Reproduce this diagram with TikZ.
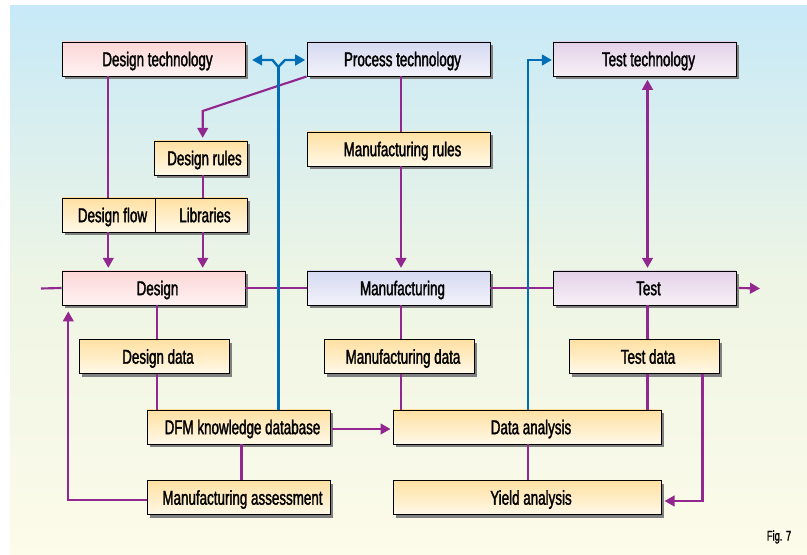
\documentclass[tikz,border=0pt]{standalone}
\usepackage{fontspec}
\setmainfont[FakeStretch=0.67,FakeBold=1.6]{Liberation Sans}
\usetikzlibrary{arrows.meta,shadows,calc}
\definecolor{bgT}{RGB}{199,233,248}
\definecolor{bgM}{RGB}{238,245,228}
\definecolor{bgB}{RGB}{253,251,234}
\definecolor{pinkT}{RGB}{252,214,214}
\definecolor{pinkB}{RGB}{255,243,243}
\definecolor{bluT}{RGB}{212,217,240}
\definecolor{bluB}{RGB}{243,243,251}
\definecolor{vioT}{RGB}{227,209,232}
\definecolor{vioB}{RGB}{247,240,247}
\definecolor{yelT}{RGB}{255,224,162}
\definecolor{yelB}{RGB}{255,249,232}
\definecolor{purp}{RGB}{146,39,143}
\definecolor{bluL}{RGB}{0,110,183}
\definecolor{shad}{RGB}{128,128,128}
\tikzset{
  box/.style={draw=black, line width=0.7pt, inner sep=0pt,
    text height=10.8pt, text depth=0pt, minimum height=25.5pt,
    font=\fontsize{15pt}{17pt}\selectfont,
    execute at begin node={\hspace*{6pt}},
    drop shadow={shadow xshift=2.4pt, shadow yshift=-2.4pt, fill=shad, opacity=1}},
  wd/.style={minimum width=#1*0.75pt},
  pinkbox/.style={box, top color=pinkT, bottom color=pinkB},
  bluebox/.style={box, top color=bluT, bottom color=bluB},
  viobox/.style={box, top color=vioT, bottom color=vioB},
  yelbox/.style={box, top color=yelT, bottom color=yelB},
  pl/.style={draw=purp, line width=1.6pt},
  bl/.style={draw=bluL, line width=1.8pt},
  arr/.style={-{Triangle[length=7.5pt,width=8pt]}},
  darr/.style={{Triangle[length=7.5pt,width=8pt]}-{Triangle[length=7.5pt,width=8pt]}},
}
\begin{document}
\begin{tikzpicture}[x=0.75pt,y=-0.75pt]
\useasboundingbox (0,0) rectangle (807,555);
\fill[white] (0,0) rectangle (807,555);
\shade[top color=bgT, bottom color=bgB, middle color=bgM] (10,6) rectangle (807,555);

% boxes
\node[pinkbox, wd=183] (dt) at (153.5,59) {Design technology};
\node[bluebox, wd=183] (pt) at (398.5,59) {Process technology};
\node[viobox, wd=183] (tt) at (644.5,59) {Test technology};
\node[yelbox, wd=93] (dr) at (200.5,158) {Design rules};
\node[yelbox, wd=183] (mr) at (398.5,149) {Manufacturing rules};
\node[yelbox, wd=93] (df) at (108.5,215) {Design flow};
\node[yelbox, wd=92] (lib) at (201,215) {Libraries};
\node[pinkbox, wd=183] (des) at (153.5,288) {Design};
\node[bluebox, wd=183] (man) at (398.5,288) {Manufacturing};
\node[viobox, wd=183] (test) at (644.5,288) {Test};
\node[yelbox, wd=150] (dd) at (154,356.5) {Design data};
\node[yelbox, wd=150] (md) at (399,356.5) {Manufacturing data};
\node[yelbox, wd=150] (td) at (644,356.5) {Test data};
\node[yelbox, wd=183] (dfm) at (238.5,427) {DFM knowledge database};
\node[yelbox, wd=268] (da) at (527,427) {Data analysis};
\node[yelbox, wd=183] (ma) at (238.5,497.5) {Manufacturing assessment};
\node[yelbox, wd=268] (ya) at (527,497.5) {Yield analysis};
\node[inner sep=0pt, font=\fontsize{10.5pt}{12pt}\selectfont] (fig) at (779,537) {Fig. 7};

% column coordinates
\coordinate (cA) at (108.3,0);
\coordinate (cB) at (202.7,0);
\coordinate (cC) at (156.7,0);
\coordinate (cD) at (401,0);
\coordinate (cE) at (647.5,0);
\coordinate (cF) at (278.3,0);
\coordinate (cG) at (527.7,0);
\coordinate (cH) at (241.5,0);
\coordinate (cI) at (528,0);
\coordinate (cJ) at (702.5,501);
\coordinate (cK) at (68.3,500);
\coordinate (in) at (41,288.5);
\coordinate (out) at (760,288.5);
\coordinate (bend1) at (202.7,111);

% purple connectors
\draw[pl] (in) -- (des.west);
\draw[pl] (des.east) -- (man.west);
\draw[pl] (man.east) -- (test.west);
\draw[pl,arr] ([xshift=2pt]test.east) -- (out);
\draw[pl] (dt.south -| cA) -- (df.north -| cA);
\draw[pl,arr,shorten >=2pt] (df.south -| cA) -- (des.north -| cA);
\draw[pl,arr,shorten >=2pt] (pt.south west) -- (bend1) -- (dr.north -| bend1);
\draw[pl] (dr.south -| cB) -- (lib.north -| cB);
\draw[pl,arr,shorten >=2pt] (lib.south -| cB) -- (des.north -| cB);
\draw[pl] (pt.south -| cD) -- (mr.north -| cD);
\draw[pl,arr,shorten >=2pt] (mr.south -| cD) -- (man.north -| cD);
\draw[pl,darr,shorten <=2.5pt,shorten >=2pt] (tt.south -| cE) -- (test.north -| cE);
\draw[pl] (des.south -| cC) -- (dd.north -| cC);
\draw[pl] (dd.south -| cC) -- (dfm.north -| cC);
\draw[pl] (man.south -| cD) -- (md.north -| cD);
\draw[pl] (md.south -| cD) -- (da.north -| cD);
\draw[pl] (test.south -| cE) -- (td.north -| cE);
\draw[pl] (td.south -| cE) -- (da.north -| cE);
\draw[pl,arr,shorten >=2.3pt] (td.south -| cJ) -- (cJ) -- (ya.east |- cJ);
\draw[pl,arr,shorten <=1.5pt,shorten >=1.5pt] ($(dfm.east)+(0,2)$) -- ($(da.west)+(0,2)$);
\draw[pl] (dfm.south -| cH) -- (ma.north -| cH);
\draw[pl] (da.south -| cI) -- (ya.north -| cI);
\draw[pl,arr,shorten >=4.5pt] (ma.west |- cK) -- (cK) -- (des.south -| cK);

% blue connectors
\coordinate (fk) at (278.3,67);
\coordinate (fl) at (272.5,60);
\coordinate (fr) at (285,60);
\coordinate (b2) at (527.7,60);
\draw[bl] (dfm.north -| cF) -- (fk);
\draw[bl,arr,shorten >=5pt] (fk) -- (fl) -- (dt.east |- fl);
\draw[bl,arr,shorten >=1pt] (fk) -- (fr) -- (pt.west |- fr);
\draw[bl,arr,shorten >=0.5pt] (da.north -| cG) -- (b2) -- (tt.west |- b2);
\end{tikzpicture}
\end{document}
